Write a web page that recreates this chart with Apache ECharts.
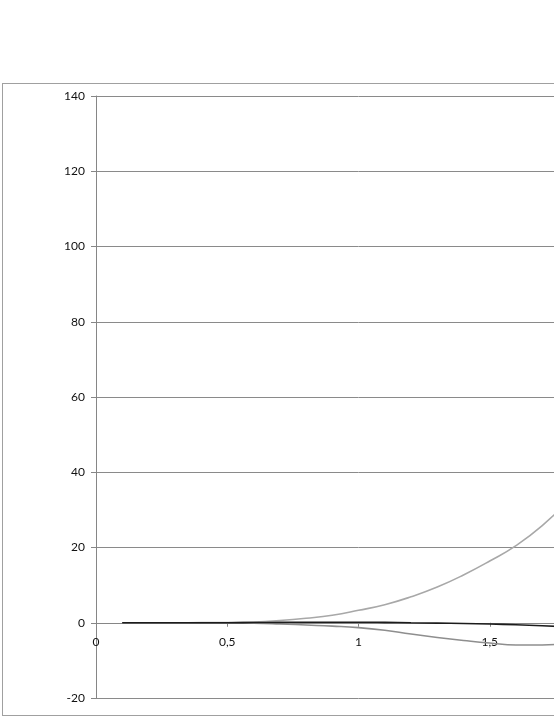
<!DOCTYPE html>
<html>
<head>
<meta charset="utf-8">
<script src="https://cdn.jsdelivr.net/npm/echarts@6/dist/echarts.min.js"></script>
<style>
  html, body { margin: 0; padding: 0; background: #fff; overflow: hidden; }
  #main {
    position: absolute;
    left: 2px;
    top: 83px;
    width: 760px;
    height: 631px;
    border: 1px solid #a0a0a0;
  }
</style>
</head>
<body>
<div id="main"></div>
<script>
var chartDom = document.getElementById('main');
var myChart = echarts.init(chartDom);

// x values (0.1 steps)
var xValues = [0.1, 0.2, 0.3, 0.4, 0.5, 0.6, 0.7, 0.8, 0.9, 1.0, 1.1, 1.2, 1.3, 1.4, 1.5, 1.6, 1.7, 1.8];
// rising curve (light grey)
var risingValues = [0, 0, 0, 0.02, 0.05, 0.2, 0.6, 1.2, 2.0, 3.3, 4.8, 6.9, 9.5, 12.7, 16.4, 20.5, 25.8, 32.5];
// almost flat curve (black)
var flatValues = [0, 0, 0, 0, 0, 0.05, 0.1, 0.15, 0.15, 0.15, 0.1, 0, -0.1, -0.2, -0.35, -0.55, -0.8, -1.1];
// falling curve (mid grey)
var fallingValues = [0, 0, 0, -0.02, -0.05, -0.1, -0.3, -0.6, -0.9, -1.3, -2.0, -3.0, -3.9, -4.7, -5.4, -5.9, -5.9, -5.4];

var yTicks = { min: -20, max: 140, interval: 20 };
var xTicks = { min: 0, max: 2, interval: 0.5 };

function pairs(ys) {
  var out = [];
  for (var i = 0; i < xValues.length; i++) {
    out.push([xValues[i], ys[i]]);
  }
  return out;
}

var labelFont = {
  color: '#111',
  fontFamily: 'Lato, "Open Sans", sans-serif',
  fontSize: 12
};

var plotHeight = 602;
// x axis sits on the y = 0 line, moved up from the bottom of the grid
var zeroOffset = -plotHeight * (0 - yTicks.min) / (yTicks.max - yTicks.min);

var option = {
  animation: false,
  grid: {
    left: 93,
    top: 12,
    width: 525,
    height: plotHeight,
    containLabel: false,
    outerBoundsMode: 'none'
  },
  xAxis: {
    type: 'value',
    min: xTicks.min,
    max: xTicks.max,
    interval: xTicks.interval,
    position: 'bottom',
    offset: zeroOffset,
    axisLine: { show: true, onZero: false, lineStyle: { color: '#868686', width: 1 } },
    axisTick: { show: true, length: 4, lineStyle: { color: '#868686' } },
    splitLine: { show: false },
    axisLabel: Object.assign({
      margin: 13,
      formatter: function (v) { return String(v).replace('.', ','); }
    }, labelFont)
  },
  yAxis: {
    type: 'value',
    min: yTicks.min,
    max: yTicks.max,
    interval: yTicks.interval,
    axisLine: { show: true, onZero: false, lineStyle: { color: '#868686', width: 1 } },
    axisTick: { show: true, length: 5, lineStyle: { color: '#868686' } },
    splitLine: { show: true, lineStyle: { color: '#8a8a8a', width: 1 } },
    axisLabel: Object.assign({ margin: 11 }, labelFont)
  },
  series: [
    {
      name: 'rising',
      type: 'line',
      data: pairs(risingValues),
      smooth: true,
      symbol: 'none',
      lineStyle: { color: '#a8a8a8', width: 1.6 }
    },
    {
      name: 'falling',
      type: 'line',
      data: pairs(fallingValues),
      smooth: true,
      symbol: 'none',
      lineStyle: { color: '#8e8e8e', width: 1.6 }
    },
    {
      name: 'flat',
      type: 'line',
      data: pairs(flatValues),
      smooth: true,
      symbol: 'none',
      lineStyle: { color: '#1c1c1c', width: 1.6 }
    }
  ]
};

myChart.setOption(option);
</script>
</body>
</html>
